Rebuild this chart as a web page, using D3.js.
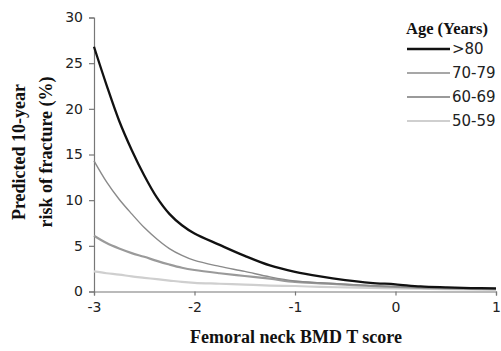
<!DOCTYPE html>
<html>
<head>
<meta charset="utf-8">
<script src="https://d3js.org/d3.v7.min.js"></script>
<style>
    body { margin: 0; background: #fff; }
    .tick-label { font-family: "DejaVu Sans", sans-serif; font-size: 14px; fill: #222; }
    .title { font-family: "Liberation Serif", "Times New Roman", serif; font-weight: bold; font-size: 18px; fill: #111; }
</style>
</head>
<body>
<div id="chart"></div>
<script>
    // T score positions shared by all series
    const tScores = [-3, -2.875, -2.75, -2.625, -2.5, -2.375, -2.25, -2.125, -2, -1.75, -1.5, -1.25, -1, -0.75, -0.5, -0.25, 0, 0.25, 0.5, 0.75, 1];

    // predicted 10-year risk (%) per age group
    const riskOver80 = [26.8, 22.6, 18.7, 15.5, 12.7, 10.3, 8.5, 7.25, 6.35, 5.1, 3.9, 2.85, 2.15, 1.65, 1.25, 0.95, 0.78, 0.55, 0.45, 0.38, 0.35];
    const risk7079 = [14.3, 12.0, 10.1, 8.5, 7.0, 5.75, 4.7, 3.95, 3.4, 2.75, 2.2, 1.6, 1.15, 0.95, 0.8, 0.65, 0.55, 0.45, 0.35, 0.3, 0.25];
    const risk6069 = [6.1, 5.3, 4.7, 4.2, 3.8, 3.35, 2.95, 2.6, 2.35, 2.0, 1.7, 1.4, 1.05, 0.9, 0.75, 0.6, 0.5, 0.4, 0.35, 0.3, 0.25];
    const risk5059 = [2.2, 2.0, 1.85, 1.65, 1.5, 1.35, 1.2, 1.05, 0.95, 0.85, 0.75, 0.65, 0.6, 0.5, 0.45, 0.4, 0.35, 0.3, 0.25, 0.22, 0.2];

    const ageLabels = ['>80', '70-79', '60-69', '50-59'];
    const xTicks = [-3, -2, -1, 0, 1];
    const yTicks = [0, 5, 10, 15, 20, 25, 30];

    const series = [
        { label: ageLabels[0], values: riskOver80, color: '#111', width: 2.3 },
        { label: ageLabels[1], values: risk7079, color: '#8a8a8a', width: 1.4 },
        { label: ageLabels[2], values: risk6069, color: '#9a9a9a', width: 2.2 },
        { label: ageLabels[3], values: risk5059, color: '#cfcfcf', width: 2.2 }
    ];

    const W = 501, H = 351;
    const svg = d3.select('#chart').append('svg')
        .attr('width', W)
        .attr('height', H);

    const x = d3.scaleLinear().domain([-3, 1]).range([94, 496]);
    const y = d3.scaleLinear().domain([0, 30]).range([291.5, 17.5]);

    // y axis
    const yAxis = svg.append('g')
        .attr('transform', `translate(${x(-3)},0)`)
        .call(d3.axisLeft(y).tickValues(yTicks).tickSize(5).tickPadding(6));
    yAxis.selectAll('text').attr('class', 'tick-label');

    // x axis
    const xAxis = svg.append('g')
        .attr('transform', `translate(0,${y(0)})`)
        .call(d3.axisBottom(x).tickValues(xTicks).tickSize(4).tickPadding(7));
    xAxis.selectAll('text').attr('class', 'tick-label').text(d => d < 0 ? '-' + Math.abs(d) : d);

    svg.selectAll('.domain, .tick line').attr('stroke', '#777').attr('stroke-width', 1.2);

    // curves
    const line = d3.line()
        .x((d, i) => x(tScores[i]))
        .y(d => y(d))
        .curve(d3.curveCatmullRom.alpha(0.5));

    svg.selectAll('.risk-line')
        .data(series.slice().reverse())
        .enter()
        .append('path')
        .attr('class', 'risk-line')
        .attr('fill', 'none')
        .attr('stroke', d => d.color)
        .attr('stroke-width', d => d.width)
        .attr('d', d => line(d.values));

    // axis titles
    svg.append('text')
        .attr('class', 'title')
        .attr('x', 296)
        .attr('y', 343)
        .attr('text-anchor', 'middle')
        .text('Femoral neck BMD T score');

    svg.append('text')
        .attr('class', 'title')
        .attr('transform', 'translate(25,152) rotate(-90)')
        .attr('text-anchor', 'middle')
        .text('Predicted 10-year');

    svg.append('text')
        .attr('class', 'title')
        .attr('transform', 'translate(52,152) rotate(-90)')
        .attr('text-anchor', 'middle')
        .text('risk of fracture (%)');

    // legend
    const legend = svg.append('g');
    legend.append('text')
        .attr('class', 'title')
        .attr('x', 406)
        .attr('y', 34)
        .style('font-size', '16.5px')
        .text('Age (Years)');

    const items = legend.selectAll('.item')
        .data(series)
        .enter()
        .append('g')
        .attr('transform', (d, i) => `translate(407,${49 + i * 24})`);

    items.append('line')
        .attr('x1', 0)
        .attr('x2', 43)
        .attr('stroke', d => d.color)
        .attr('stroke-width', d => d.width);

    items.append('text')
        .attr('class', 'tick-label')
        .attr('x', 45)
        .attr('dy', '0.35em')
        .style('font-size', '15px')
        .text(d => d.label);
</script>
</body>
</html>
